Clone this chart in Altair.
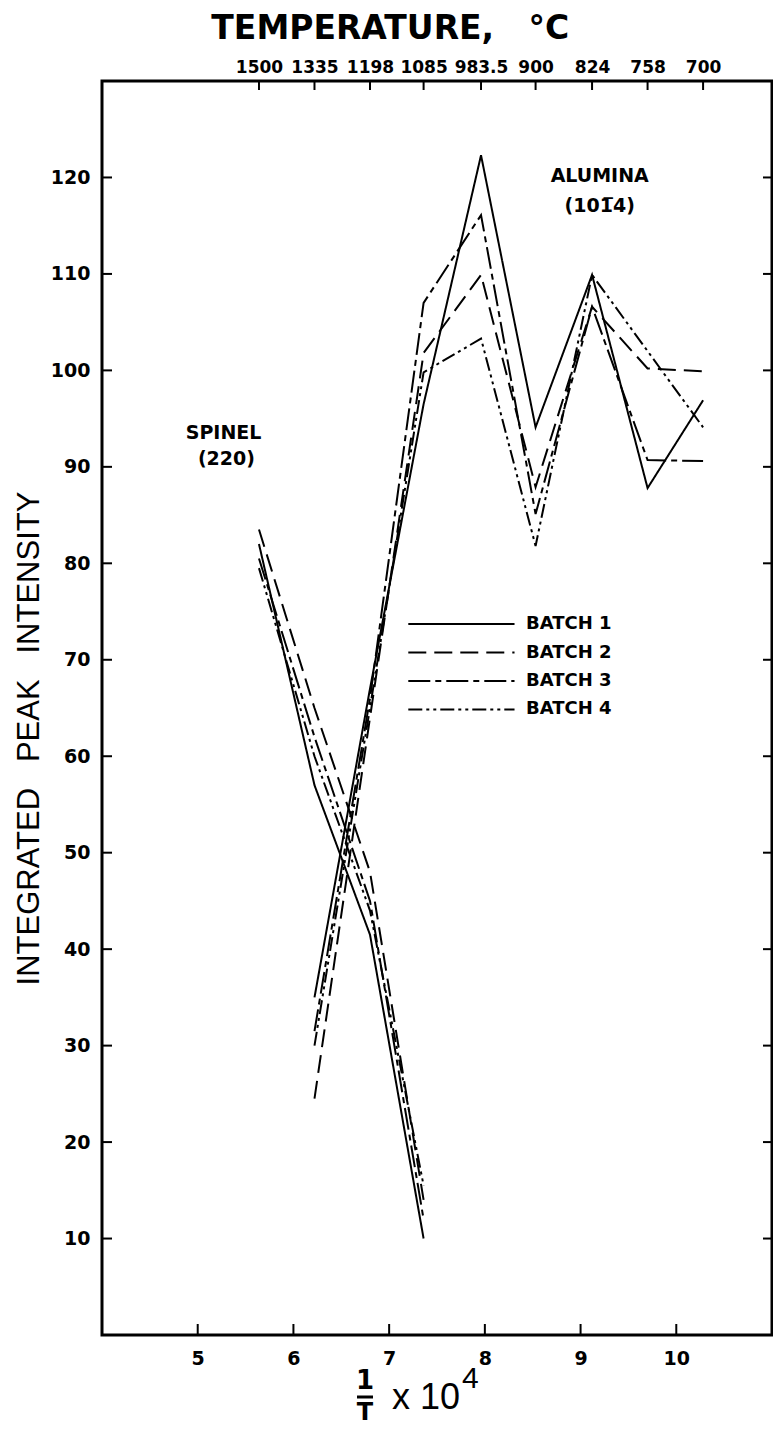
import altair as alt
import pandas as pd

# ---------------- data ----------------
temps = ["1500", "1335", "1198", "1085", "983.5", "900", "824", "758", "700"]
inv_t = [5.64, 6.22, 6.80, 7.36, 7.96, 8.53, 9.12, 9.70, 10.28]   # 1/T x 10^4 (T in K)

batches = ["BATCH 1", "BATCH 2", "BATCH 3", "BATCH 4"]

# spinel (220) measured at the four highest temperatures
spinel_b1 = [82.0, 57.0, 41.5, 10.0]
spinel_b2 = [83.5, 65.0, 48.0, 14.0]
spinel_b3 = [80.5, 62.0, 45.0, 12.0]
spinel_b4 = [79.5, 60.0, 44.0, 15.5]

# alumina (10-14) measured from 1335 C downwards
alumina_b1 = [35.0, 67.0, 96.5, 122.3, 94.1, 109.9, 87.8, 96.9]
alumina_b2 = [24.5, 64.0, 101.8, 109.9, 87.9, 106.6, 100.2, 99.9]
alumina_b3 = [31.5, 66.0, 107.0, 116.1, 85.1, 106.6, 90.7, 90.6]
alumina_b4 = [30.0, 65.0, 99.8, 103.3, 81.8, 109.9, 102.0, 94.1]

x_ticks = [5, 6, 7, 8, 9, 10]
y_ticks = [10, 20, 30, 40, 50, 60, 70, 80, 90, 100, 110, 120]

# ---------------- tables ----------------
spinel = dict(zip(batches, [spinel_b1, spinel_b2, spinel_b3, spinel_b4]))
alumina = dict(zip(batches, [alumina_b1, alumina_b2, alumina_b3, alumina_b4]))
rows = []
for b in batches:
    for x, y in zip(inv_t[:4], spinel[b]):
        rows.append({"x": x, "y": y, "batch": b, "phase": "spinel"})
    for x, y in zip(inv_t[1:], alumina[b]):
        rows.append({"x": x, "y": y, "batch": b, "phase": "alumina"})
df = pd.DataFrame(rows)

W, H = 670, 1254
LBL = "DejaVu Sans"
NB = "\u00a0"
xs = alt.Scale(domain=[4, 11], nice=False, zero=False)
ys = alt.Scale(domain=[0, 130], nice=False, zero=False)
dash = alt.Scale(domain=batches, range=[[1, 0], [18, 8], [22, 5, 6, 5], [14, 4, 3, 4, 3, 4]])

lines = alt.Chart(df).mark_line(color="black", strokeWidth=2).encode(
    x=alt.X("x:Q", scale=xs, axis=alt.Axis(
        orient="bottom", values=x_ticks, ticks=False, domain=False, grid=False,
        labelFont=LBL, labelFontSize=19, labelFontWeight="bold", labelColor="black",
        labelPadding=14, title=None)),
    y=alt.Y("y:Q", scale=ys, axis=alt.Axis(
        orient="left", values=y_ticks, ticks=False, domain=False, grid=False,
        labelFont=LBL, labelFontSize=19, labelFontWeight="bold", labelColor="black",
        labelPadding=12,
        title="INTEGRATED" + NB * 3 + "PEAK" + NB * 3 + "INTENSITY",
        titleFont="Liberation Sans Narrow, Liberation Sans", titleFontSize=31,
        titleFontWeight="normal", titleColor="black", titlePadding=5,
        titleY=H / 2 + 30)),
    strokeDash=alt.StrokeDash("batch:N", scale=dash, legend=None),
    detail="phase:N",
)

label_expr = "[" + ",".join("'%s'" % t for t in temps) + "][indexof([" + \
    ",".join(str(v) for v in inv_t) + "], datum.value)]"

top_df = pd.DataFrame({"x": inv_t, "temp": temps})
top_ticks = alt.Chart(top_df).mark_rule(color="black", strokeWidth=2).encode(
    x=alt.X("x:Q", scale=xs, axis=alt.Axis(
        orient="top", values=inv_t, labelExpr=label_expr, ticks=False, domain=False,
        grid=False, labelFont=LBL, labelFontSize=17, labelFontWeight="bold",
        labelColor="black", labelPadding=5, labelOverlap=False, labelFlush=False,
        title=None)),
    y=alt.value(0), y2=alt.value(9),
)

ytick_df = pd.DataFrame({"v": y_ticks})
left_ticks = alt.Chart(ytick_df).mark_rule(color="black", strokeWidth=2).encode(
    y=alt.Y("v:Q", scale=ys, axis=None), x=alt.value(0), x2=alt.value(10))
right_ticks = alt.Chart(ytick_df).mark_rule(color="black", strokeWidth=2).encode(
    y=alt.Y("v:Q", scale=ys, axis=None), x=alt.value(W - 9), x2=alt.value(W))
xtick_df = pd.DataFrame({"v": x_ticks})
bottom_ticks = alt.Chart(xtick_df).mark_rule(color="black", strokeWidth=2).encode(
    x=alt.X("v:Q", scale=xs, axis=None), y=alt.value(H - 11), y2=alt.value(H))

# annotations
ann_df = pd.DataFrame({
    "x": [5.27, 5.30, 9.20, 9.20],
    "y": [93.5, 90.8, 120.2, 117.0],
    "label": ["SPINEL", "(220)", "ALUMINA", "(101\u03054)"],
})
ann = alt.Chart(ann_df).mark_text(font=LBL, fontSize=19, fontWeight="bold",
                                  color="black", baseline="middle").encode(
    x=alt.X("x:Q", scale=xs, axis=None), y=alt.Y("y:Q", scale=ys, axis=None),
    text="label:N")

# legend drawn inside the plot
leg_top, leg_step = 73.7, 2.95
leg_df = pd.DataFrame({
    "batch": batches,
    "y": [leg_top - i * leg_step for i in range(len(batches))],
    "x0": [7.20] * 4, "x1": [8.31] * 4, "xt": [8.43] * 4,
})
leg_rules = alt.Chart(leg_df).mark_rule(color="black", strokeWidth=2).encode(
    x=alt.X("x0:Q", scale=xs, axis=None), x2="x1:Q",
    y=alt.Y("y:Q", scale=ys, axis=None),
    strokeDash=alt.StrokeDash("batch:N", scale=dash, legend=None))
leg_text = alt.Chart(leg_df).mark_text(font=LBL, fontSize=18, fontWeight="bold",
                                       color="black", align="left", baseline="middle").encode(
    x=alt.X("xt:Q", scale=xs, axis=None), y=alt.Y("y:Q", scale=ys, axis=None),
    text="batch:N")

# x-axis title: 1/T x 10^4
one = pd.DataFrame({"t": ["1"]})
xt_num = alt.Chart(one).mark_text(font=LBL, fontSize=26, fontWeight="bold",
                                  color="black", baseline="middle").encode(
    x=alt.value(263), y=alt.value(H + 46), text="t:N")
xt_bar = alt.Chart(one).mark_rule(color="black", strokeWidth=3).encode(
    x=alt.value(255), x2=alt.value(271), y=alt.value(H + 62))
xt_den = alt.Chart(pd.DataFrame({"t": ["T"]})).mark_text(
    font=LBL, fontSize=24, fontWeight="bold", color="black", baseline="middle").encode(
    x=alt.value(263), y=alt.value(H + 78), text="t:N")
xt_mul = alt.Chart(pd.DataFrame({"t": ["x 10"]})).mark_text(
    font="Liberation Sans", fontSize=36, color="black", align="left",
    baseline="middle").encode(x=alt.value(290), y=alt.value(H + 63), text="t:N")
xt_exp = alt.Chart(pd.DataFrame({"t": ["4"]})).mark_text(
    font="Liberation Sans", fontSize=30, color="black", align="left",
    baseline="middle").encode(x=alt.value(360), y=alt.value(H + 44), text="t:N")

chart = alt.layer(
    lines, top_ticks, left_ticks, right_ticks, bottom_ticks, ann,
    leg_rules, leg_text, xt_num, xt_bar, xt_den, xt_mul, xt_exp,
).resolve_axis(x="independent", y="independent").properties(
    width=W, height=H,
    padding={"left": 5, "top": 5, "right": 0, "bottom": 0},
    title=alt.TitleParams("TEMPERATURE," + NB * 3 + "\u00b0C", font=LBL, fontSize=33,
                          fontWeight="bold", color="black", anchor="start",
                          dx=198, offset=12),
).configure_view(stroke="black", strokeWidth=3)

chart.save("out.html", embed_options={"renderer": "svg", "actions": False})
